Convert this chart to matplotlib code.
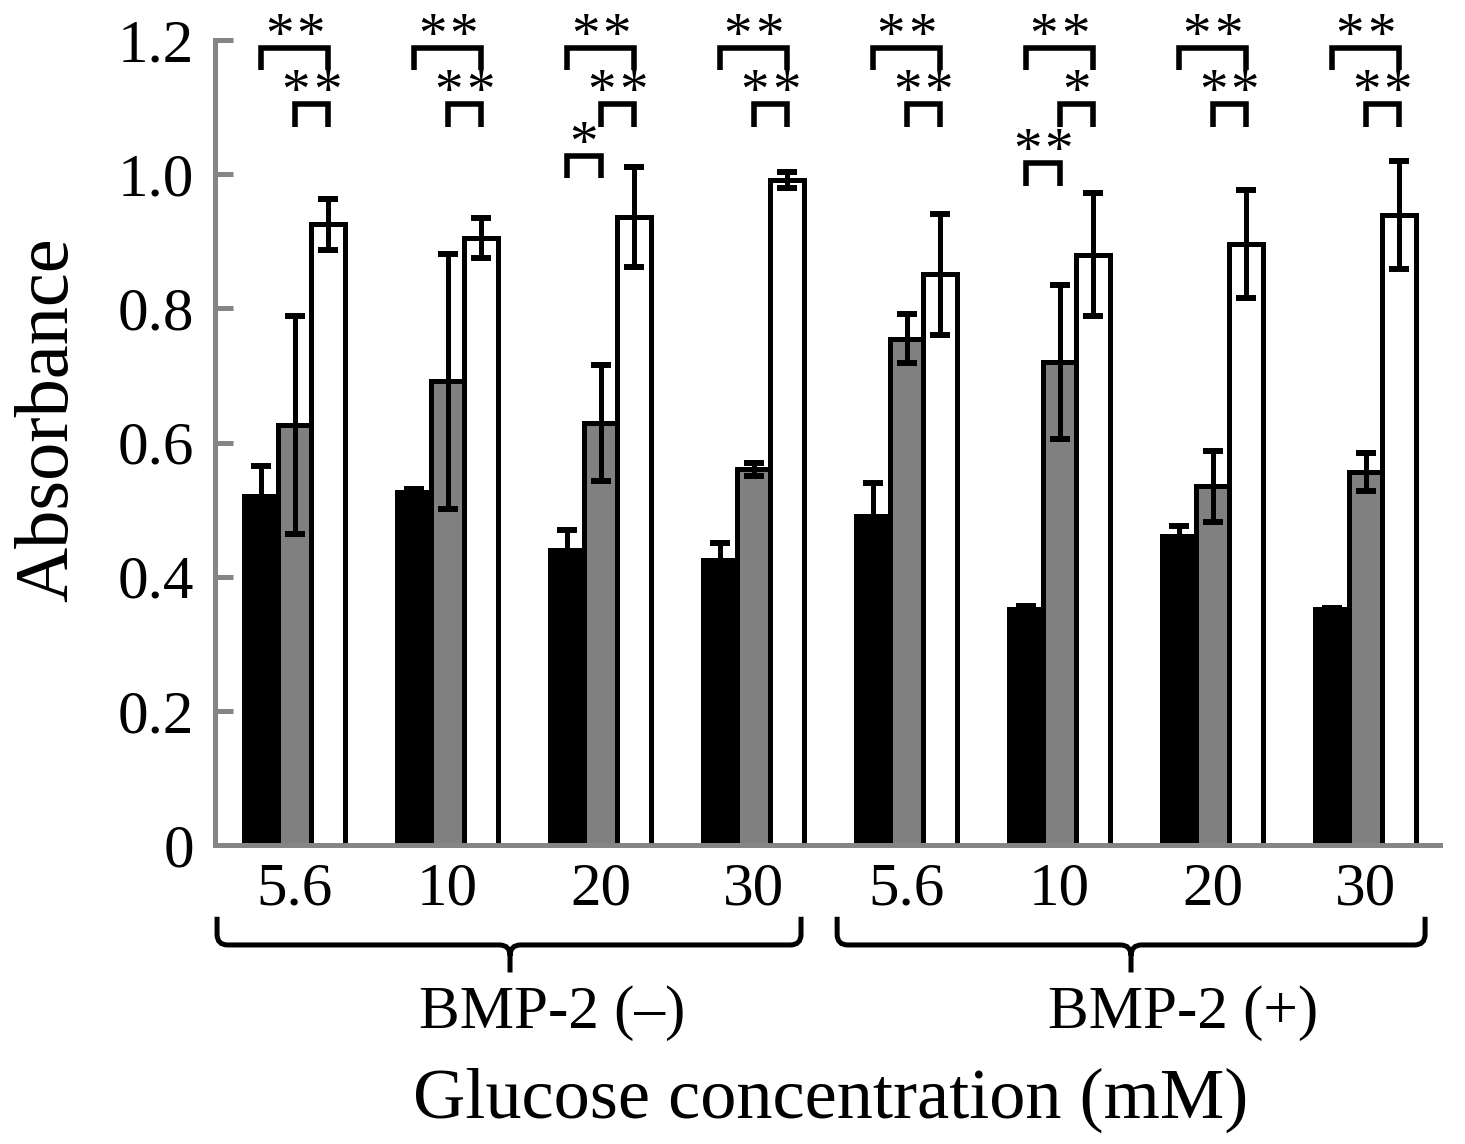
import matplotlib
matplotlib.use('Agg')
import matplotlib.pyplot as plt
import numpy as np
from matplotlib.path import Path
from matplotlib.patches import PathPatch

# ---------------- data ----------------
conc_labels = ["5.6", "10", "20", "30", "5.6", "10", "20", "30"]
black_means = [0.520, 0.526, 0.440, 0.425, 0.490, 0.352, 0.460, 0.352]
black_err = [0.045, 0.005, 0.030, 0.025, 0.050, 0.004, 0.015, 0.002]
gray_means = [0.626, 0.691, 0.629, 0.560, 0.755, 0.720, 0.535, 0.556]
gray_err = [0.163, 0.190, 0.086, 0.010, 0.036, 0.115, 0.053, 0.028]
white_means = [0.925, 0.905, 0.936, 0.991, 0.851, 0.880, 0.896, 0.939]
white_err = [0.038, 0.030, 0.075, 0.012, 0.090, 0.092, 0.080, 0.080]

outer_sig = ["**"] * 8                      # black vs white
inner_sig = ["**", "**", "**", "**", "**", "*", "**", "**"]   # gray vs white
extra_sig = [(2, "*", 1.027), (5, "**", 1.016)]              # black vs gray
y_ticks = [0, 0.2, 0.4, 0.6, 0.8, 1.0, 1.2]
y_tick_labels = ["0", "0.2", "0.4", "0.6", "0.8", "1.0", "1.2"]
group_names = ["BMP-2 (–)", "BMP-2 (+)"]

# ---------------- figure ----------------
plt.rcParams['font.family'] = ['Liberation Serif', 'DejaVu Serif']
fig = plt.figure(figsize=(14.65, 11.44), dpi=100)
ax = fig.add_axes([0.1468, 0.26136, 0.83618, 0.70367])

x = np.arange(len(conc_labels))
w = 0.219
series = [(black_means, black_err, 'black', -w),
          (gray_means, gray_err, '#808080', 0.0),
          (white_means, white_err, 'white', w)]
for means, err, col, off in series:
    ax.bar(x + off, means, w, color=col, edgecolor='black', linewidth=3.6, zorder=2)
for means, err, col, off in series:
    ax.errorbar(x + off, means, yerr=err, fmt='none', ecolor='black',
                elinewidth=3.6, capsize=7.5, capthick=4.3, zorder=3)

ax.set_xlim(-0.52, 7.487)
ax.set_ylim(0, 1.2)
ax.set_yticks(y_ticks)
ax.set_yticklabels(y_tick_labels)
ax.set_xticks(x)
ax.set_xticklabels(conc_labels)

spine_col = '#858585'
for s in ['top', 'right']:
    ax.spines[s].set_visible(False)
for s in ['left', 'bottom']:
    ax.spines[s].set_color(spine_col)
    ax.spines[s].set_linewidth(3.6)
ax.tick_params(axis='y', direction='in', length=13, width=3.6, color=spine_col,
               labelsize=44, pad=15)
ax.tick_params(axis='x', length=0, labelsize=44, pad=12)


def bracket(xa, xb, ytop, label, leg=0.033):
    ax.plot([xa, xa, xb, xb], [ytop - leg, ytop, ytop, ytop - leg], color='black',
            lw=4.0, clip_on=False, solid_joinstyle='miter', solid_capstyle='butt', zorder=4)
    n = len(label)
    for k in range(n):
        dx = (k - (n - 1) / 2) * 22.5
        ax.annotate('*', xy=((xa + xb) / 2, ytop), xytext=(dx, -2.5),
                    textcoords='offset points', ha='center', va='baseline',
                    fontsize=41, annotation_clip=False)


for i in range(len(conc_labels)):
    bracket(x[i] - w, x[i] + w, 1.188, outer_sig[i])
    bracket(x[i], x[i] + w, 1.104, inner_sig[i])
for gi, lab, yt in extra_sig:
    bracket(x[gi] - w, x[gi], yt, lab)


def brace(x0, x1, xt, y_top=-0.107, y_mid=-0.149, y_tip=-0.190):
    rx, ry = 0.07, 0.016
    verts = [(x0, y_top), (x0, y_mid + ry), (x0, y_mid), (x0 + rx, y_mid),
             (xt - rx, y_mid), (xt, y_mid), (xt, y_mid - ry), (xt, y_tip),
             (xt, y_mid - ry), (xt, y_mid), (xt + rx, y_mid),
             (x1 - rx, y_mid), (x1, y_mid), (x1, y_mid + ry), (x1, y_top)]
    codes = [Path.MOVETO, Path.LINETO, Path.CURVE3, Path.CURVE3,
             Path.LINETO, Path.CURVE3, Path.CURVE3, Path.LINETO,
             Path.MOVETO, Path.CURVE3, Path.CURVE3,
             Path.LINETO, Path.CURVE3, Path.CURVE3, Path.LINETO]
    p = PathPatch(Path(verts, codes), fill=False, edgecolor='black', lw=3.6,
                  clip_on=False, capstyle='butt')
    ax.add_patch(p)


brace(-0.507, 3.31, 1.408)
brace(3.546, 7.389, 5.467)
ax.text(1.683, -0.2727, group_names[0], ha='center', va='baseline', fontsize=44, clip_on=False)
ax.text(5.807, -0.2727, group_names[1], ha='center', va='baseline', fontsize=44, clip_on=False)

fig.text(831 / 1465, 1 - 1118 / 1144, 'Glucose concentration (mM)', ha='center',
         va='baseline', fontsize=52)
fig.text(49 / 1465, 1 - 420 / 1144, 'Absorbance', rotation=90, ha='center',
         va='center', fontsize=55)

fig.savefig('out.png', dpi=100)
